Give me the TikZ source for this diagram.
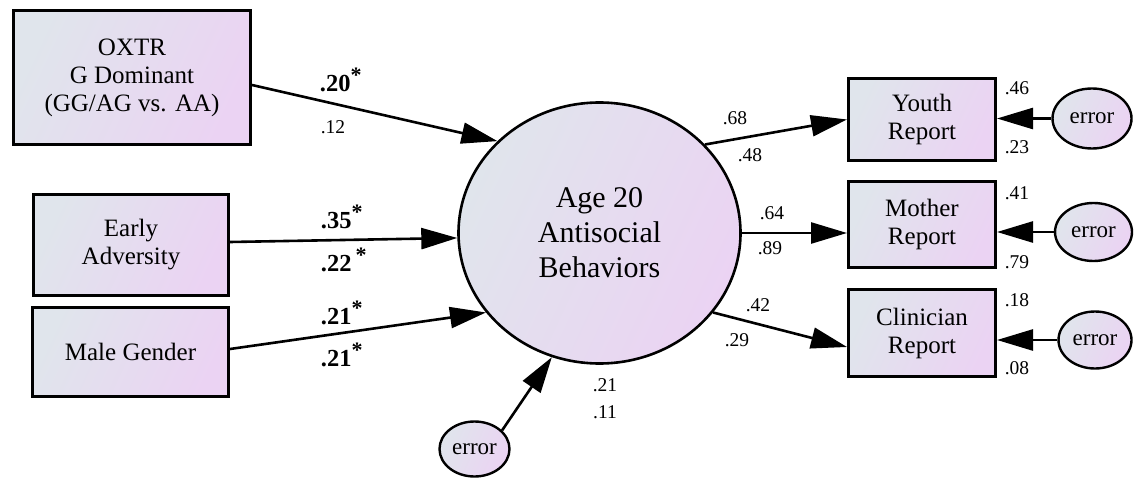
\documentclass[tikz,border=0pt]{standalone}
\usepackage{fontspec}
\setmainfont{Liberation Serif}
\usetikzlibrary{shapes.geometric,arrows.meta,calc}
\definecolor{cA}{HTML}{E0E5EC}
\definecolor{cB}{HTML}{EBD3F3}
\newcommand{\sig}{\textsuperscript{\fontsize{22}{22}\selectfont *}}
\tikzset{
  grad/.style={top color=cA,bottom color=cB,shading angle=65},
  obs/.style={draw,line width=3pt,rectangle,grad,inner sep=0pt,align=center,
    font=\fontsize{25}{28}\selectfont},
  lat/.style={draw,line width=2.6pt,ellipse,grad,inner sep=0pt,align=center,
    font=\fontsize{30}{35}\selectfont},
  err/.style={draw,line width=2.4pt,ellipse,grad,inner sep=0pt,
    font=\fontsize{23}{27}\selectfont},
  path/.style={line width=2.6pt,-{Triangle[length=36pt,width=21pt]}},
  num/.style={inner sep=0pt,font=\fontsize{19.5}{20}\selectfont},
  bnum/.style={inner sep=0pt,font=\fontsize{24.5}{25}\selectfont\bfseries},
}
\begin{document}
\begin{tikzpicture}[x=1pt,y=-1pt]
\useasboundingbox (0,0) rectangle (1134,481);
% observed predictors
\node[obs,minimum width=237,minimum height=134] (oxtr) at (132,77.5) {OXTR\\G Dominant\\(GG/AG vs. AA)};
\node[obs,minimum width=195,minimum height=101] (early) at (131,245) {Early\\Adversity};
\node[obs,minimum width=196,minimum height=89] (male) at (130.5,352) {Male Gender};
% latent
\node[lat,minimum width=282,minimum height=261] (age) at (599.5,233) {Age 20\\Antisocial\\Behaviors};
\node[err,minimum width=70,minimum height=55] (e4) at (474.5,449) {error};
% indicators
\node[obs,minimum width=147,minimum height=82] (youth) at (922,119.5) {Youth\\Report};
\node[obs,minimum width=147,minimum height=86] (mother) at (922,224.5) {Mother\\Report};
\node[obs,minimum width=147,minimum height=87] (clin) at (922,333) {Clinician\\Report};
\node[err,minimum width=79,minimum height=60] (e1) at (1092,118.5) {error};
\node[err,minimum width=77,minimum height=58] (e2) at (1093.5,232) {error};
\node[err,minimum width=73,minimum height=57] (e3) at (1095,340) {error};
% paths
\draw[path] ($(oxtr.east)+(0,7.5)$) -- (age.138.5);
\draw[path] ($(early.east)+(0,-3)$) -- (age.182.8);
\draw[path] ($(male.east)+(0,-3)$) -- (age.215.5);
\draw[path] (e4.34) -- (age.249.3);
\draw[path] (age.40.6) -- (youth.west);
\draw[path] (age.-0.8) -- (age.-0.8 -| mother.west);
\draw[path] (age.-35.5) -- ($(clin.west)+(0,14)$);
\draw[path] (e1.west) -- (e1.west -| youth.east);
\draw[path] (e2.west) -- (e2.west -| mother.east);
\draw[path] (e3.west) -- (e3.west -| clin.east);
% coefficients
\node[bnum] (l1) at (341,80) {.20\sig};
\node[num] (l2) at (333,127) {.12};
\node[bnum] (l3) at (342,217) {.35\sig};
\node[bnum] (l4) at (344,260) {.22\,\sig};
\node[bnum] (l5) at (342,313) {.21\sig};
\node[bnum] (l6) at (342,355) {.21\sig};
\node[num] (l7) at (735,118) {.68};
\node[num] (l8) at (750,155) {.48};
\node[num] (l9) at (772,213) {.64};
\node[num] (l10) at (770,248) {.89};
\node[num] (l11) at (758,305) {.42};
\node[num] (l12) at (737,340) {.29};
\node[num] (l13) at (1017,88) {.46};
\node[num] (l14) at (1017,147) {.23};
\node[num] (l15) at (1017,193) {.41};
\node[num] (l16) at (1017,262) {.79};
\node[num] (l17) at (1017,300) {.18};
\node[num] (l18) at (1017,368) {.08};
\node[num] (l19) at (605,385) {.21};
\node[num] (l20) at (605,412) {.11};
\end{tikzpicture}
\end{document}
